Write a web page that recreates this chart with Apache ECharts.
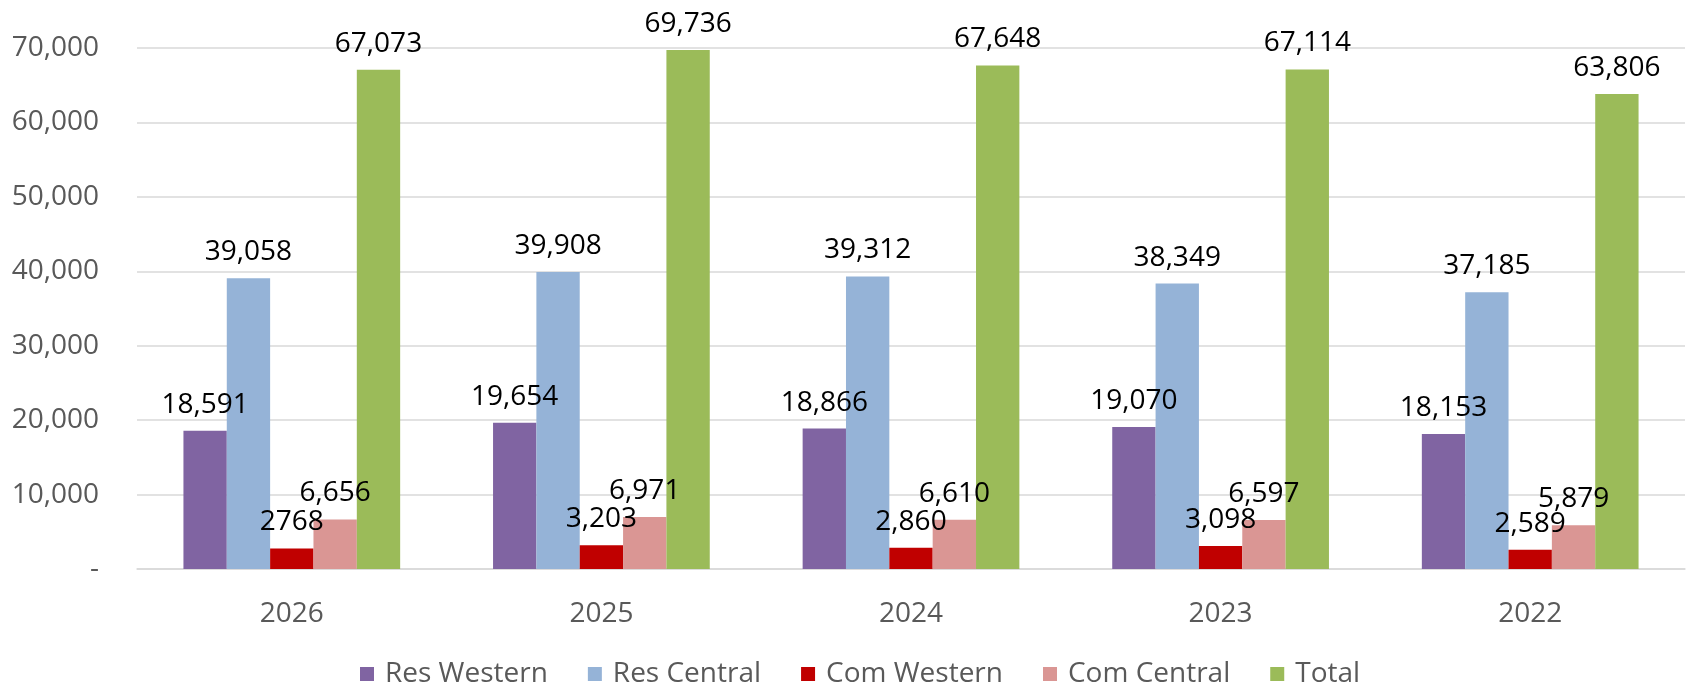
<!DOCTYPE html>
<html>
<head>
<meta charset="utf-8">
<script src="https://cdn.jsdelivr.net/npm/echarts@6/dist/echarts.min.js"></script>
<style>
html,body{margin:0;padding:0;background:#fff;}
#chart{width:1694px;height:688px;}
</style>
</head>
<body>
<div id="chart"></div>
<script>
const categories = ['2026', '2025', '2024', '2023', '2022'];
const resWestern = [18591, 19654, 18866, 19070, 18153];
const resCentral = [39058, 39908, 39312, 38349, 37185];
const comWestern = [2768, 3203, 2860, 3098, 2589];
const comCentral = [6656, 6971, 6610, 6597, 5879];
const total = [67073, 69736, 67648, 67114, 63806];
const seriesNames = ['Res Western', 'Res Central', 'Com Western', 'Com Central', 'Total'];
const seriesColors = ['#8064A2', '#95B3D7', '#C00000', '#DA9694', '#9BBB59'];
const yTicks = [0, 10000, 20000, 30000, 40000, 50000, 60000, 70000];

const FONT = 'Open Sans';
const fmt = v => v.toLocaleString('en-US');
const labelFmt = (p) => p.seriesIndex === 2 && p.dataIndex === 0 ? String(p.value) : fmt(p.value);

const dataSets = [resWestern, resCentral, comWestern, comCentral, total];
const chart = echarts.init(document.getElementById('chart'));
chart.setOption({
  animation: false,
  backgroundColor: '#fff',
  textStyle: { fontFamily: FONT },
  grid: { left: 137, right: 9, top: 48, bottom: 119, containLabel: false },
  legend: {
    top: 655,
    left: 355,
    itemWidth: 14,
    itemHeight: 14,
    itemGap: 40,
    icon: 'rect',
    textStyle: { color: '#595959', fontSize: 28, fontFamily: FONT, padding: [0, 0, 0, 6] },
    data: seriesNames
  },
  xAxis: {
    type: 'category',
    data: categories,
    axisLine: { lineStyle: { color: '#D9D9D9', width: 1.5 } },
    axisTick: { show: false },
    axisLabel: { color: '#595959', fontSize: 28, fontFamily: FONT, margin: 31 }
  },
  yAxis: {
    type: 'value',
    min: yTicks[0],
    max: yTicks[yTicks.length - 1],
    interval: 10000,
    axisLine: { show: false },
    axisTick: { show: false },
    splitLine: { lineStyle: { color: '#D9D9D9', width: 1.5 } },
    axisLabel: {
      color: '#595959', fontSize: 28, fontFamily: FONT, margin: 38,
      formatter: v => v === 0 ? '-' : fmt(v)
    }
  },
  series: seriesNames.map((name, i) => ({
    name,
    type: 'bar',
    data: dataSets[i],
    barGap: '0%',
    barCategoryGap: '30%',
    itemStyle: { color: seriesColors[i] },
    label: {
      show: true,
      position: 'top',
      distance: 12,
      color: '#000',
      fontSize: 28,
      fontFamily: FONT,
      formatter: labelFmt
    }
  }))
});
</script>
</body>
</html>
